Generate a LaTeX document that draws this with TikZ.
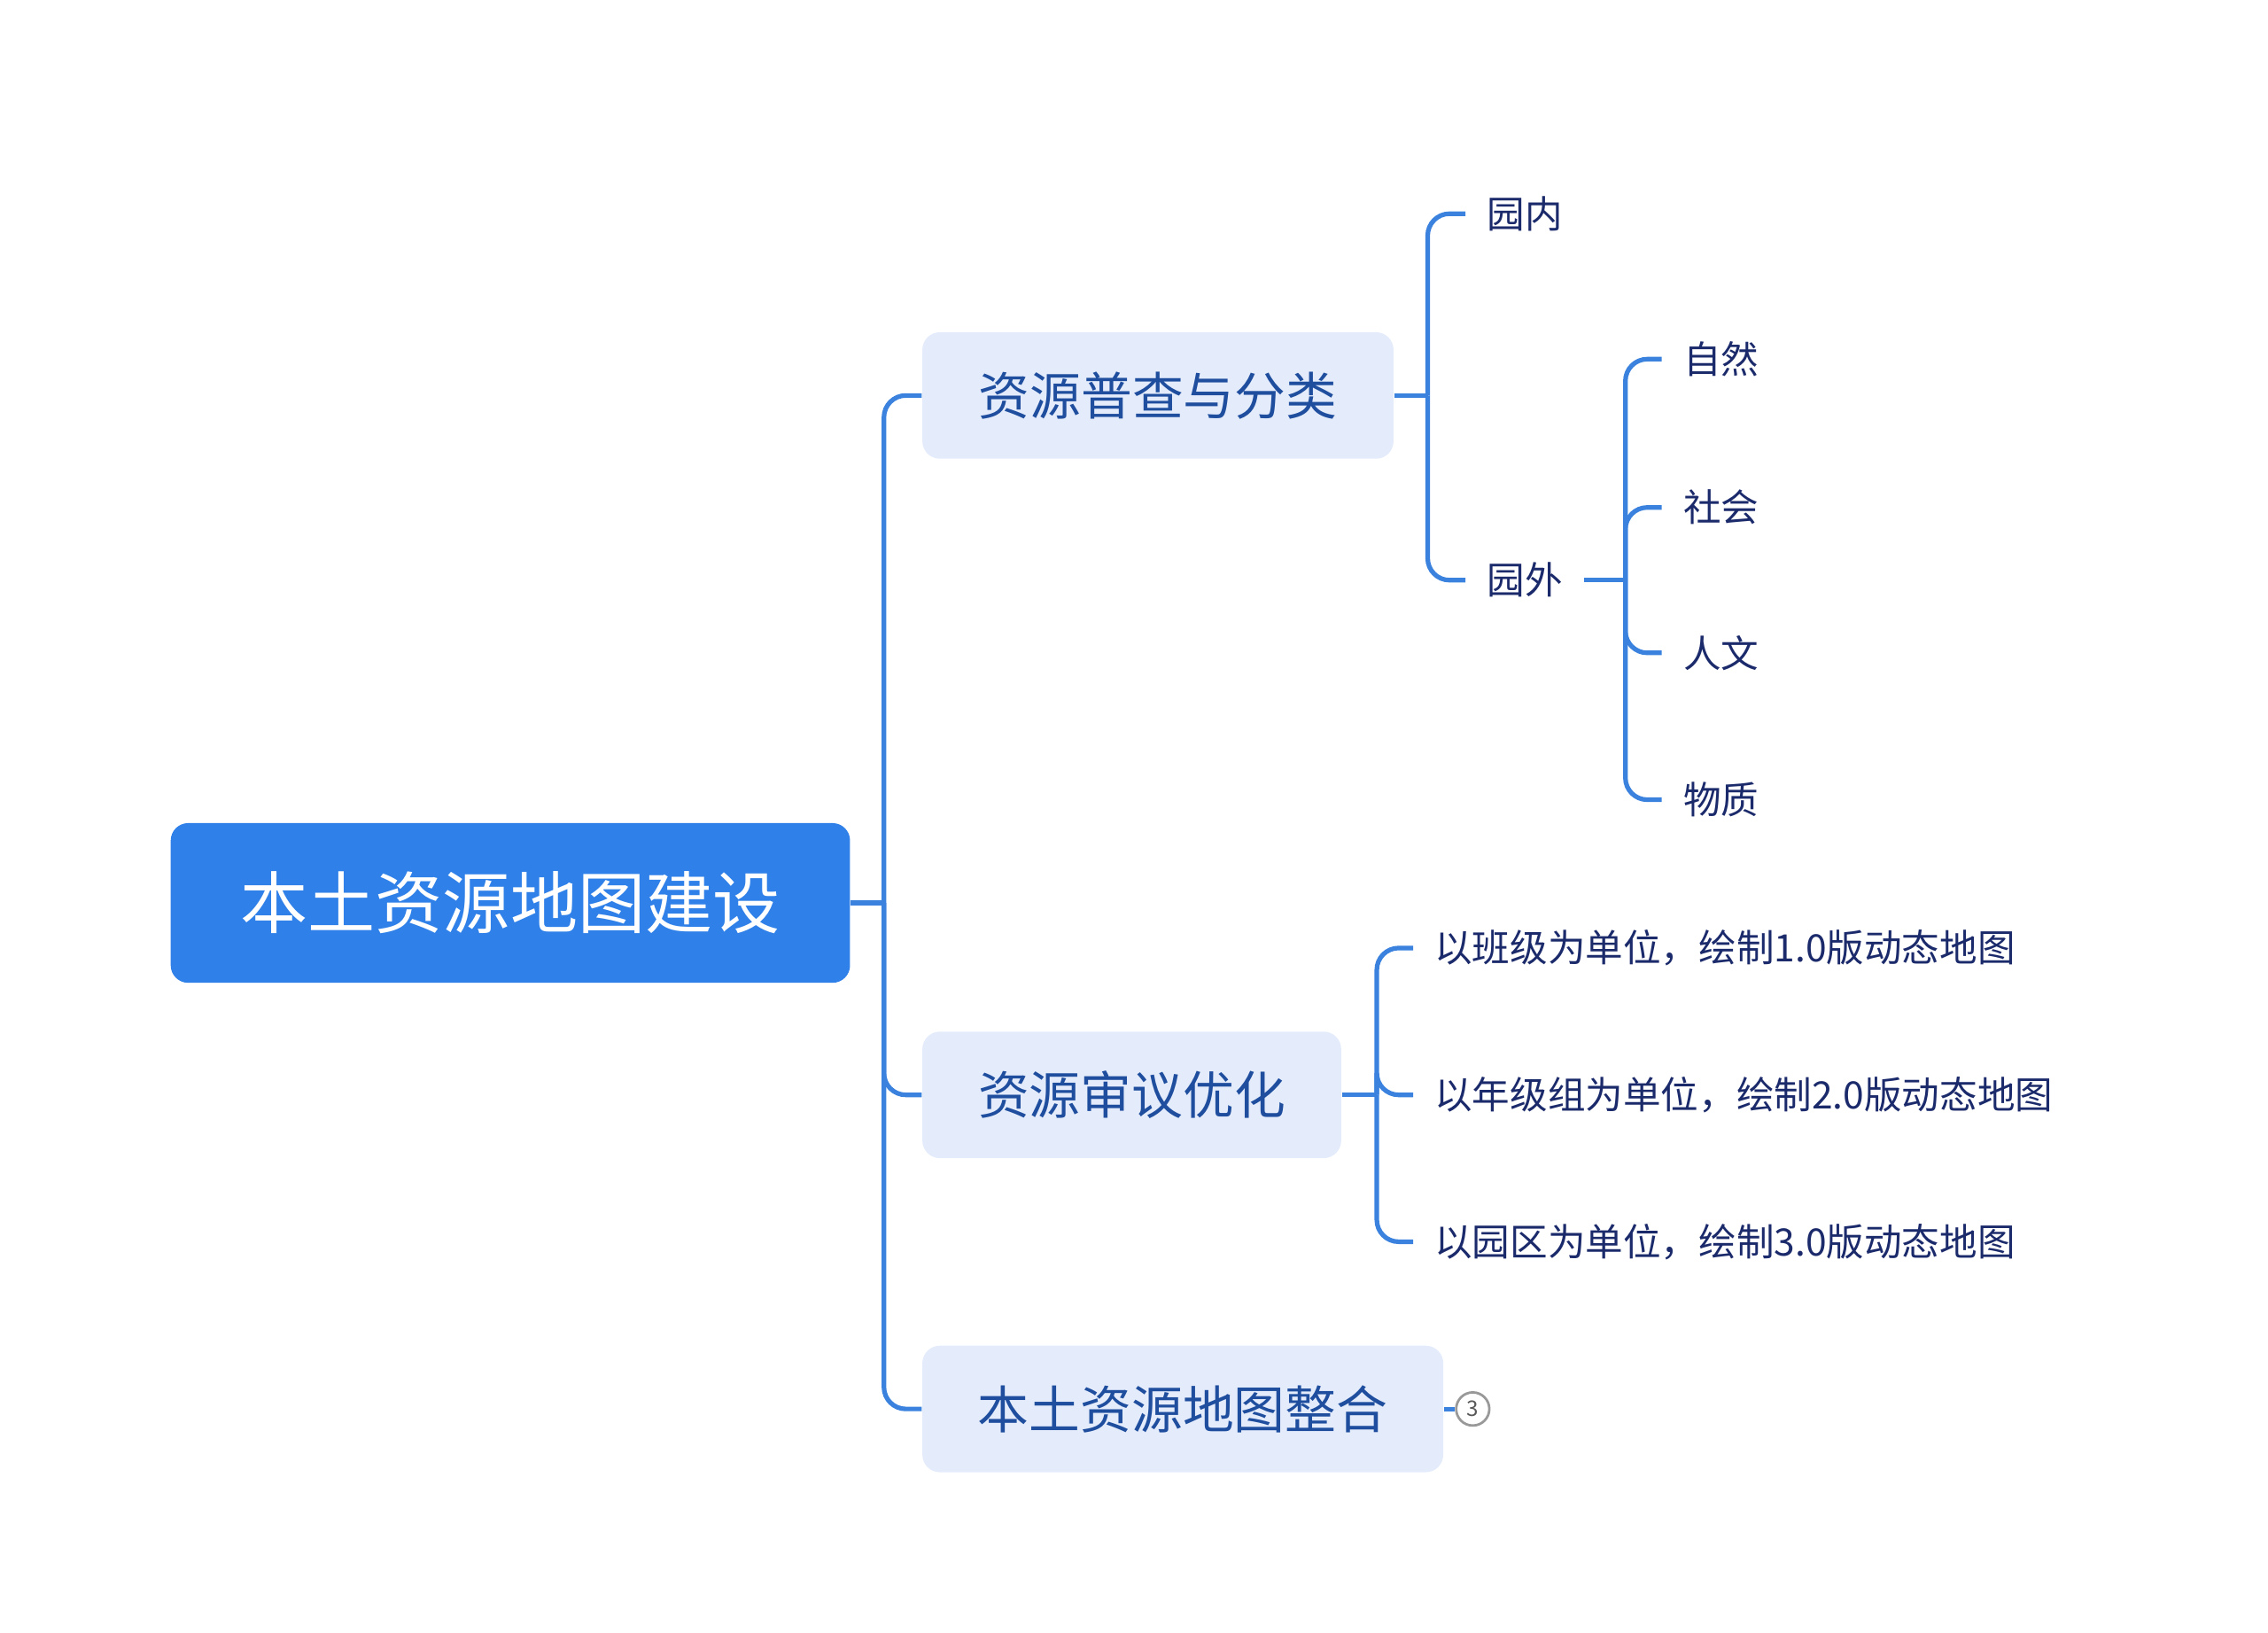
\documentclass[tikz,border=0pt]{standalone}
\usepackage{fontspec}
\setmainfont{Noto Sans CJK SC}
\begin{document}
\begin{tikzpicture}[x=0.016667cm,y=-0.016667cm,
  conn/.style={draw=linkblue,line width=1.5pt,rounded corners=0.25cm},
  rootbox/.style={fill=rootblue,rounded corners=0.2cm,text=white,font=\fontsize{22}{26}\selectfont,minimum height=1.83cm,inner xsep=0.8cm,anchor=west},
  topicbox/.style={fill=topicfill,rounded corners=0.2cm,text=topictext,font=\fontsize{16.7}{20}\selectfont,minimum height=1.45cm,inner xsep=0.6cm,anchor=west},
  leaf/.style={text=leaftext,font=\fontsize{12.3}{15}\selectfont,inner xsep=0.24cm,inner ysep=2pt,anchor=west}]
\definecolor{rootblue}{HTML}{2F80E8}
\definecolor{linkblue}{HTML}{3A82DE}
\definecolor{topicfill}{HTML}{E4ECFC}
\definecolor{topictext}{HTML}{1F4E9E}
\definecolor{leaftext}{HTML}{1B2A6B}
\useasboundingbox (0,0) rectangle (1560,1123);
\node[rootbox,minimum width=7.78cm] (root) at (117,621) {本土资源地图建设};
\node[topicbox,minimum width=5.4cm] (t1) at (634,272) {资源普查与分类};
\node[topicbox,minimum width=4.8cm] (t2) at (634,753) {资源审议优化};
\node[topicbox,minimum width=5.97cm] (t3) at (634,969) {本土资源地图整合};
\node[leaf] (a1) at (1008,147) {园内};
\node[leaf] (a2) at (1008,399) {园外};
\node[leaf] (b1) at (1143,247) {自然};
\node[leaf] (b2) at (1143,349) {社会};
\node[leaf] (b3) at (1143,449) {人文};
\node[leaf] (b4) at (1143,550) {物质};
\node[leaf] (c1) at (972,652) {以班级为单位，绘制1.0版动态地图};
\node[leaf] (c2) at (972,753) {以年级组为单位，绘制2.0版动态地图};
\node[leaf] (c3) at (972,854) {以园区为单位，绘制3.0版动态地图};
\node[circle,draw=gray!80,line width=0.8pt,fill=white,minimum size=0.38cm,inner sep=0pt,font=\fontsize{7}{8}\selectfont,text=gray!70!black] (n3) at (1013,969) {3};
\coordinate (j0) at (608,621);
\coordinate (j1) at (982,272);
\coordinate (j2) at (1118,399);
\coordinate (j3) at (947,753);
\draw[conn] (root.east) -- (j0);
\foreach \t in {t1,t2,t3} \draw[conn] (j0) |- (\t.west);
\draw[conn] (t1.east) -- (j1);
\foreach \t in {a1,a2} \draw[conn] (j1) |- (\t.west);
\draw[conn] (a2.east) -- (j2);
\foreach \t in {b1,b2,b3,b4} \draw[conn] (j2) |- (\t.west);
\draw[conn] (t2.east) -- (j3);
\foreach \t in {c1,c2,c3} \draw[conn] (j3) |- (\t.west);
\draw[conn] (t3.east) -- (n3.west);
\end{tikzpicture}
\end{document}
